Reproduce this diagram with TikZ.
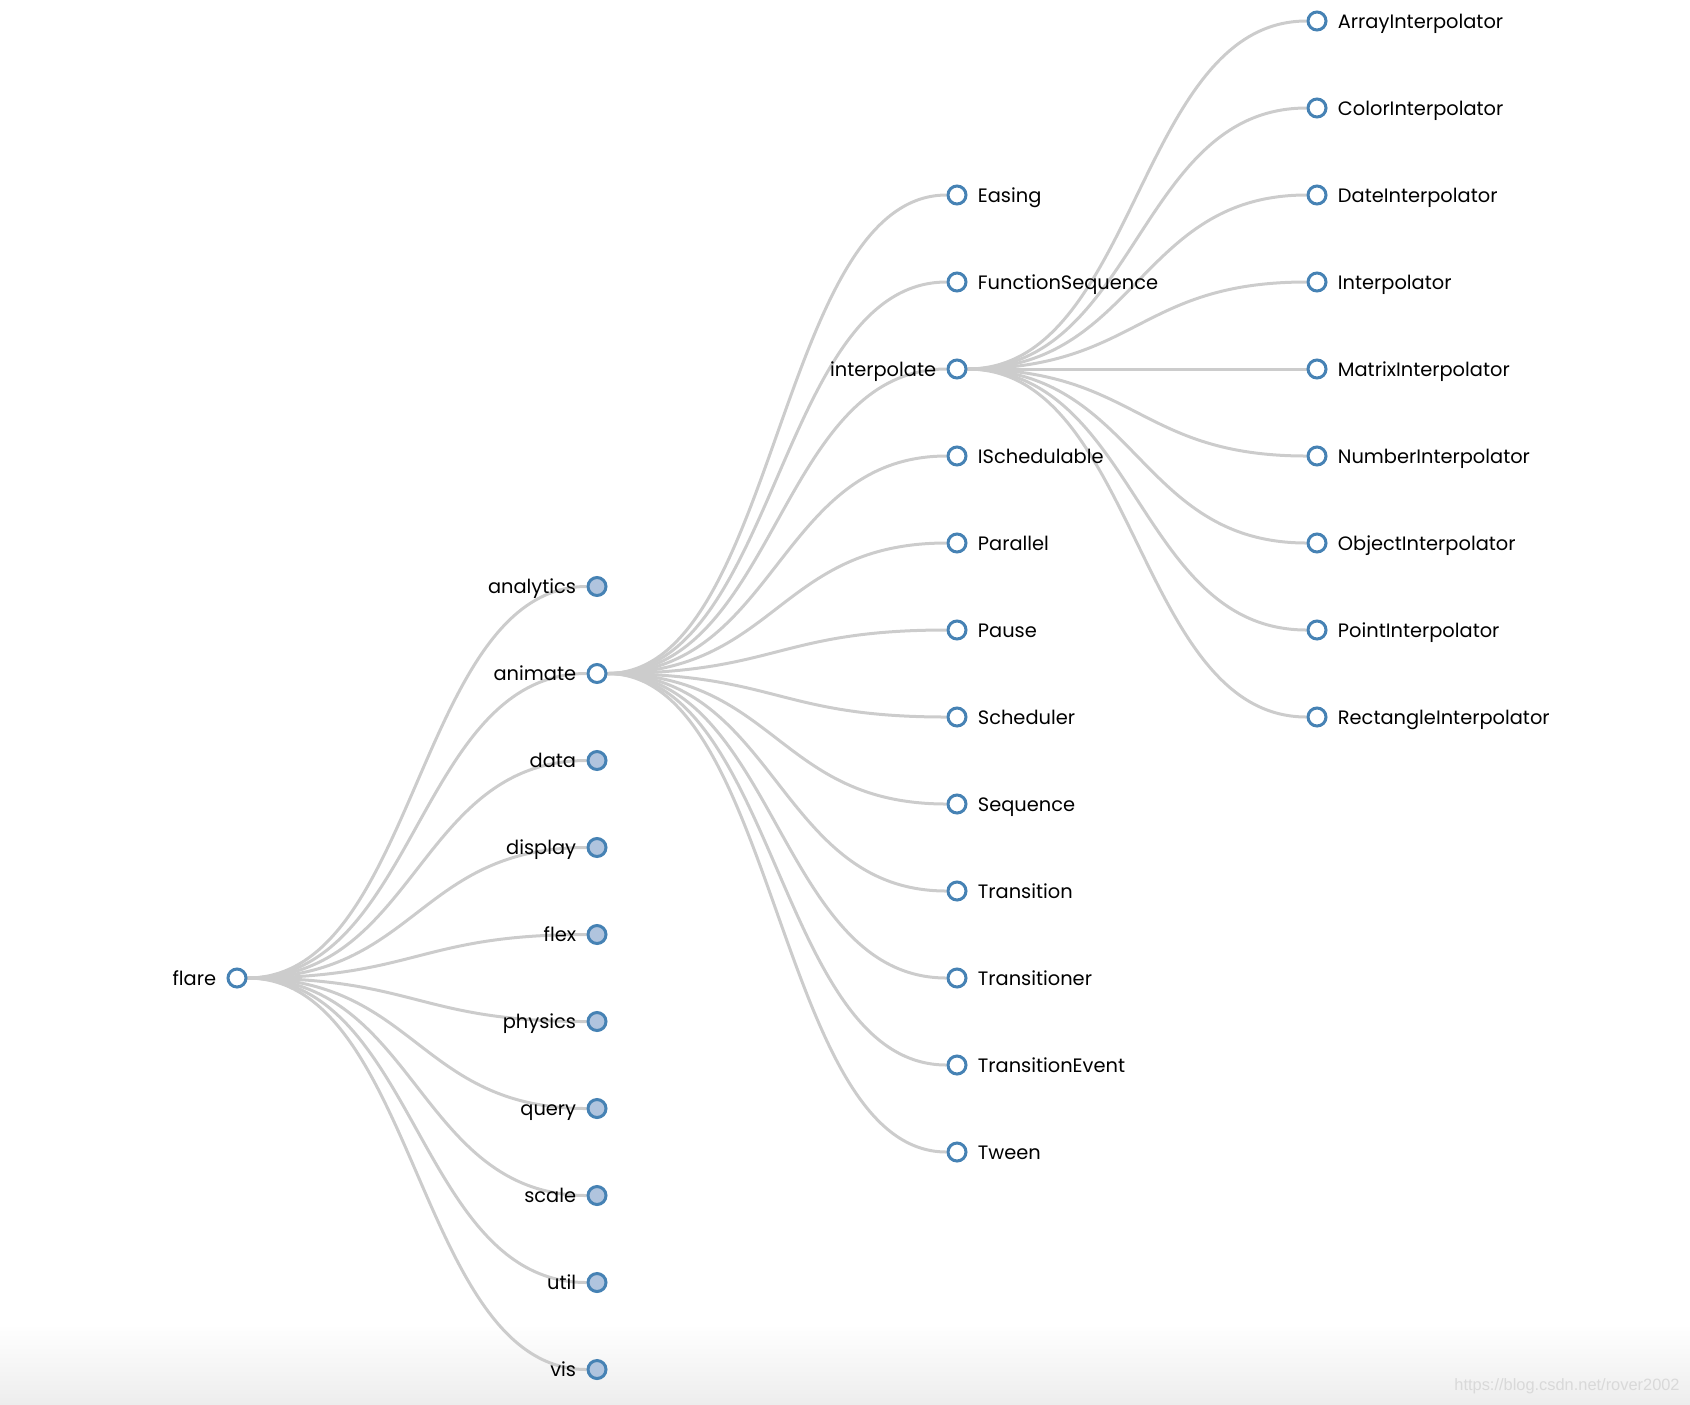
\documentclass[tikz,border=0pt]{standalone}
\usepackage{fontspec}
\setmainfont{Poppins}
\newfontfamily\urlfont{Liberation Sans}
\usetikzlibrary{shapes,trees,backgrounds}
\definecolor{steel}{HTML}{4682B4}
\definecolor{lightsteel}{HTML}{B0C4DE}
\definecolor{linkgray}{HTML}{CCCCCC}
\tikzset{
  treenode/.style = {circle, draw=steel, line width=1.5pt,
    minimum size=9pt, inner sep=0pt},
  lbl/.style = {font=\fontsize{9.7}{11}\selectfont, black, inner sep=0pt,
    text height=0.7em, text depth=0pt},
  branch/.style = {treenode, fill=white, label={[lbl]left:#1}},% noeud ouvert
  folded/.style = {treenode, fill=lightsteel, label={[lbl]left:#1}},% noeud replie
  leaf/.style = {treenode, fill=white, label={[lbl]right:#1}},% feuille
  link/.style = {draw=linkgray, line width=1.5pt},
  wmark/.style = {font=\urlfont\fontsize{8.2}{10}\selectfont, black!15,
    inner sep=0pt, anchor=base east}
}
\begin{document}
\begin{tikzpicture}[x=1pt,y=1pt,grow'=right,
  every label/.style={label distance=5pt},
  level distance=180pt, sibling distance=43.5pt,
  edge from parent/.style={draw=none}]
\useasboundingbox (0,0) rectangle (845,-702);
\node (watermark) [wmark] at (840,-695) {https://blog.csdn.net/rover2002};
\node (flare) [branch=flare] at (118.5,-489) {}
    child{ node (analytics) [folded=analytics] {} }
    child{ node (animate) [branch=animate] {}
        child{ node (easing) [leaf=Easing] {} }
        child{ node (funcseq) [leaf=FunctionSequence] {} }
        child{ node (interpolate) [branch=interpolate] {}
            child{ node (arrayinterp) [leaf=ArrayInterpolator] {} }
            child{ node (colorinterp) [leaf=ColorInterpolator] {} }
            child{ node (dateinterp) [leaf=DateInterpolator] {} }
            child{ node (interpolator) [leaf=Interpolator] {} }
            child{ node (matrixinterp) [leaf=MatrixInterpolator] {} }
            child{ node (numberinterp) [leaf=NumberInterpolator] {} }
            child{ node (objectinterp) [leaf=ObjectInterpolator] {} }
            child{ node (pointinterp) [leaf=PointInterpolator] {} }
            child{ node (rectinterp) [leaf=RectangleInterpolator] {} }
        }
        child{ node (ischedulable) [leaf=ISchedulable] {} }
        child{ node (parallel) [leaf=Parallel] {} }
        child{ node (pause) [leaf=Pause] {} }
        child{ node (scheduler) [leaf=Scheduler] {} }
        child{ node (sequence) [leaf=Sequence] {} }
        child{ node (transition) [leaf=Transition] {} }
        child{ node (transitioner) [leaf=Transitioner] {} }
        child{ node (transevent) [leaf=TransitionEvent] {} }
        child{ node (tween) [leaf=Tween] {} }
    }
    child{ node (data) [folded=data] {} }
    child{ node (display) [folded=display] {} }
    child{ node (flex) [folded=flex] {} }
    child{ node (physics) [folded=physics] {} }
    child{ node (query) [folded=query] {} }
    child{ node (scale) [folded=scale] {} }
    child{ node (util) [folded=util] {} }
    child{ node (vis) [folded=vis] {} }
;
% liens sous les etiquettes
\begin{pgfonlayer}{background}
\shade[top color=white, bottom color=black!7] (0,-662) rectangle (845,-702);
\foreach \p/\c in {flare/analytics, flare/animate, flare/data, flare/display,
    flare/flex, flare/physics, flare/query, flare/scale, flare/util, flare/vis,
    animate/easing, animate/funcseq, animate/interpolate, animate/ischedulable,
    animate/parallel, animate/pause, animate/scheduler, animate/sequence,
    animate/transition, animate/transitioner, animate/transevent, animate/tween,
    interpolate/arrayinterp, interpolate/colorinterp, interpolate/dateinterp,
    interpolate/interpolator, interpolate/matrixinterp, interpolate/numberinterp,
    interpolate/objectinterp, interpolate/pointinterp, interpolate/rectinterp}
  \draw[link] (\p) .. controls +(90pt,0) and +(-90pt,0) .. (\c);
\end{pgfonlayer}
\end{tikzpicture}
\end{document}
